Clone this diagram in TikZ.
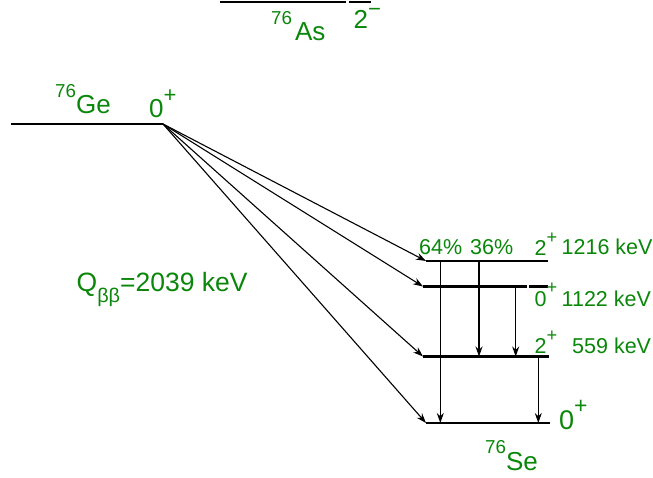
\documentclass[tikz,border=0pt]{standalone}
\usepackage{fontspec}
\setmainfont{Liberation Sans}
\usetikzlibrary{arrows.meta}
\definecolor{levelgreen}{RGB}{10,135,10}
\newcommand{\massno}[1]{\raisebox{0.62em}{\scalebox{0.72}{#1}}}
\newcommand{\parity}[2][0.58em]{\raisebox{#1}{\scalebox{0.85}{#2}}}
\newcommand{\lowidx}[1]{\raisebox{-0.42em}{\scalebox{0.75}{#1}}}

\begin{document}
\begin{tikzpicture}[x=1pt,y=-1pt]
    % Styles
    \tikzstyle{level_line} = [line width=2.8pt]
    \tikzstyle{decay_arrow} = [-{Stealth[length=10pt,width=7pt]}, line width=1.1pt]
    \tikzstyle{big_label} = [text=levelgreen, font=\fontsize{26}{30}\selectfont, inner sep=0pt, anchor=base west]
    \tikzstyle{small_label} = [text=levelgreen, font=\fontsize{21.5}{26}\selectfont, inner sep=0pt, anchor=base west]

    \useasboundingbox (0,0) rectangle (653,478);

    % Level end points
    \coordinate (as_l) at (220,2);
    \coordinate (as_r) at (371,2);
    \coordinate (ge_l) at (11,124);
    \coordinate (ge_r) at (163,124);
    \coordinate (se4_l) at (426,261);
    \coordinate (se4_r) at (548,261);
    \coordinate (se3_l) at (423,286.5);
    \coordinate (se3_r) at (548,286.5);
    \coordinate (se2_l) at (423,356.5);
    \coordinate (se2_r) at (549,356.5);
    \coordinate (se1_l) at (426,423);
    \coordinate (se1_r) at (550,423);

    % Levels
    \draw[level_line] (as_l) -- ++(126,0) ++(3,0) -- (as_r);
    \draw[level_line] (ge_l) -- (ge_r);
    \draw[level_line] (se4_l) -- (se4_r);
    \draw[level_line] (se3_l) -- ++(104,0) ++(2,0) -- (se3_r);
    \draw[level_line] (se2_l) -- (se2_r);
    \draw[level_line] (se1_l) -- (se1_r);

    % Labels
    \node[big_label] (as_name) at (271,40.7) {\massno{76}\kern3pt As};
    \node[big_label] (as_spin) at (353.5,28.3) {2\parity[0.45em]{−}};
    \node[big_label] (ge_name) at (55,113.5) {\massno{76}Ge};
    \node[big_label] (ge_spin) at (149,118) {0\parity{+}};
    \node[big_label, font=\fontsize{26.5}{30}\selectfont] (q_value) at (76.5,291.7) {Q\lowidx{ββ}=2039 keV};
    \node[small_label] (br64) at (419,255) {64\%};
    \node[small_label] (br36) at (470,255) {36\%};
    \node[small_label] (se4_spin) at (534.5,255.5) {2\parity{+}};
    \node[small_label] (se4_energy) at (561.5,255) {1216 keV};
    \node[small_label] (se3_spin) at (534.5,306) {0\parity{+}};
    \node[small_label] (se3_energy) at (561.5,306) {1122 keV};
    \node[small_label] (se2_spin) at (534.5,353.5) {2\parity{+}};
    \node[small_label] (se2_energy) at (572,353.5) {559 keV};
    \node[big_label, font=\fontsize{27}{30}\selectfont] (se1_spin) at (559,429) {0\parity{+}};
    \node[big_label] (se_name) at (485,470) {\massno{76}Se};

    % Double beta decays
    \foreach \lev in {se4_l, se3_l, se2_l, se1_l}
        \draw[decay_arrow] (ge_r) -- (\lev);

    % Gamma transitions
    \coordinate (g1) at (440.3,0);
    \coordinate (g2) at (479,0);
    \coordinate (g3) at (515.7,0);
    \coordinate (g4) at (538.3,0);
    \draw[decay_arrow] (g1 |- se4_l) -- (g1 |- se1_l);
    \draw[decay_arrow] (g2 |- se4_l) -- (g2 |- se2_l);
    \draw[decay_arrow] (g3 |- se3_l) -- (g3 |- se2_l);
    \draw[decay_arrow] (g4 |- se2_l) -- (g4 |- se1_l);
\end{tikzpicture}
\end{document}
